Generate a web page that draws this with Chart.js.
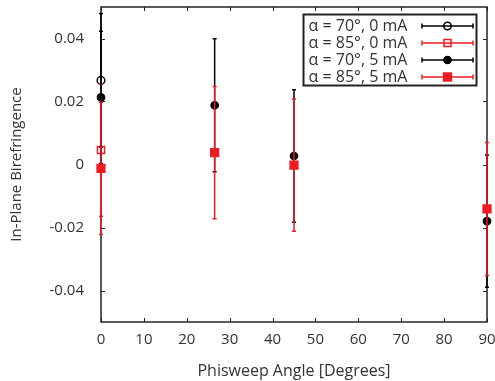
<!DOCTYPE html>
<html>
<head>
<meta charset="utf-8">
<script src="https://cdn.jsdelivr.net/npm/chart.js@4/dist/chart.umd.min.js"></script>
<style>
html, body { margin: 0; padding: 0; background: #fff; overflow: hidden; }
</style>
</head>
<body>
<canvas id="birefChart" width="495" height="381"></canvas>
<script>
'use strict'

const seriesLabels = ['α = 70°, 0 mA', 'α = 85°, 0 mA', 'α = 70°, 5 mA', 'α = 85°, 5 mA'];

const angles70_0mA = [0];
const biref70_0mA = [0.0267];
const err70_0mA = [0.0212];

const angles85_0mA = [0];
const biref85_0mA = [0.0046];
const err85_0mA = [0.0210];

const angles70_5mA = [0, 26.5, 45, 90];
const biref70_5mA = [0.0213, 0.0188, 0.0027, -0.0180];
const err70_5mA = [0.0210, 0.0211, 0.0210, 0.0210];

const angles85_5mA = [0, 26.5, 45, 90];
const biref85_5mA = [-0.0012, 0.0038, -0.0002, -0.0141];
const err85_5mA = [0.0210, 0.0210, 0.0210, 0.0211];

const xTicks = [0, 10, 20, 30, 40, 50, 60, 70, 80, 90];
const yTicks = [-0.04, -0.02, 0, 0.02, 0.04];

const red = 'rgb(237,28,36)';
const black = '#000';
const textColor = '#333';

function toPoints(xs, ys) {
    return xs.map((x, i) => ({ x: x, y: ys[i] }));
}

const datasets = [
    { label: seriesLabels[0], data: toPoints(angles70_0mA, biref70_0mA), errors: err70_0mA,
      color: black, pointStyle: 'circle', filled: false, order: 3 },
    { label: seriesLabels[1], data: toPoints(angles85_0mA, biref85_0mA), errors: err85_0mA,
      color: red, pointStyle: 'rect', filled: false, order: 2 },
    { label: seriesLabels[2], data: toPoints(angles70_5mA, biref70_5mA), errors: err70_5mA,
      color: black, pointStyle: 'circle', filled: true, order: 1 },
    { label: seriesLabels[3], data: toPoints(angles85_5mA, biref85_5mA), errors: err85_5mA,
      color: red, pointStyle: 'rect', filled: true, order: 0 },
].map(ds => Object.assign(ds, {
    showLine: false,
    clip: false,
    borderColor: ds.color,
    backgroundColor: ds.filled ? ds.color : 'rgba(0,0,0,0)',
    pointBorderWidth: 1.5,
    pointRadius: ds.pointStyle === 'rect' ? (ds.filled ? 5.5 : 5) : (ds.filled ? 3.6 : 3.8),
    pointHoverRadius: 5
}));

// error bars with small caps, drawn just before each dataset's markers
const errorBars = {
    id: 'errorBars',
    beforeDatasetDraw(chart, args) {
        const ds = chart.data.datasets[args.index];
        const xs = chart.scales.x, ys = chart.scales.y;
        const ctx = chart.ctx;
        ctx.save();
        ctx.strokeStyle = ds.color;
        ctx.lineWidth = 1.5;
        ds.data.forEach((p, i) => {
            const px = xs.getPixelForValue(p.x);
            const top = ys.getPixelForValue(p.y + ds.errors[i]);
            const bot = ys.getPixelForValue(p.y - ds.errors[i]);
            ctx.beginPath();
            ctx.moveTo(px, top); ctx.lineTo(px, bot);
            ctx.moveTo(px - 2, top); ctx.lineTo(px + 2, top);
            ctx.moveTo(px - 2, bot); ctx.lineTo(px + 2, bot);
            ctx.stroke();
        });
        ctx.restore();
    }
};

// plot frame with inward ticks on all four sides
const frame = {
    id: 'frame',
    beforeDatasetsDraw(chart) {
        const { ctx, chartArea: a } = chart;
        const xs = chart.scales.x, ys = chart.scales.y;
        ctx.save();
        ctx.strokeStyle = '#222';
        ctx.lineWidth = 1.5;
        ctx.strokeRect(a.left, a.top, a.right - a.left, a.bottom - a.top);
        ctx.lineWidth = 1;
        ctx.beginPath();
        xTicks.forEach(v => {
            const px = Math.round(xs.getPixelForValue(v)) + 0.5;
            ctx.moveTo(px, a.bottom); ctx.lineTo(px, a.bottom - 4);
            ctx.moveTo(px, a.top); ctx.lineTo(px, a.top + 4);
        });
        yTicks.forEach(v => {
            const py = Math.round(ys.getPixelForValue(v)) + 0.5;
            ctx.moveTo(a.left, py); ctx.lineTo(a.left + 4, py);
            ctx.moveTo(a.right, py); ctx.lineTo(a.right - 4, py);
        });
        ctx.stroke();
        ctx.restore();
    }
};

function drawMarker(ctx, ds, x, y) {
    ctx.save();
    ctx.lineWidth = 1.5;
    ctx.strokeStyle = ds.color;
    ctx.fillStyle = ds.color;
    ctx.beginPath();
    if (ds.pointStyle === 'circle') {
        ctx.arc(x, y, ds.pointRadius, 0, Math.PI * 2);
    } else {
        const s = ds.pointRadius * Math.SQRT1_2;
        ctx.rect(x - s, y - s, 2 * s, 2 * s);
    }
    if (ds.filled) ctx.fill();
    ctx.stroke();
    ctx.restore();
}

// legend in the style of the original: text left, error-bar sample right
const boxLegend = {
    id: 'boxLegend',
    afterDatasetsDraw(chart) {
        const { ctx, chartArea: a } = chart;
        const w = 173, h = 71;
        const left = a.right - 10.5 - w, top = a.top + 7.5;
        ctx.save();
        ctx.fillStyle = '#fff';
        ctx.fillRect(left, top, w, h);
        ctx.lineWidth = 2;
        ctx.strokeStyle = '#222';
        ctx.strokeRect(left, top, w, h);
        ctx.font = '16px "Open Sans"';
        ctx.textBaseline = 'middle';
        chart.data.datasets.forEach((ds, i) => {
            const cy = top + 11.5 + i * 17;
            ctx.fillStyle = textColor;
            ctx.fillText(ds.label, left + 5, cy);
            const x0 = left + 118.5, x1 = left + 169.5, xm = (x0 + x1) / 2;
            ctx.strokeStyle = ds.color;
            ctx.lineWidth = 1.5;
            ctx.beginPath();
            ctx.moveTo(x0, cy); ctx.lineTo(x1, cy);
            ctx.moveTo(x0, cy - 2.5); ctx.lineTo(x0, cy + 2.5);
            ctx.moveTo(x1, cy - 2.5); ctx.lineTo(x1, cy + 2.5);
            ctx.stroke();
            drawMarker(ctx, ds, xm, cy);
        });
        ctx.restore();
    }
};

const configBiref = {
    type: 'scatter',
    data: { datasets: datasets },
    options: {
        responsive: false,
        animation: false,
        layout: { padding: { top: 4, right: 8, left: 0, bottom: 0 } },
        plugins: {
            legend: { display: false },
            tooltip: { enabled: false }
        },
        scales: {
            x: {
                type: 'linear',
                min: 0,
                max: 90,
                grid: { display: false, drawTicks: false },
                border: { display: false },
                afterBuildTicks: s => { s.ticks = xTicks.map(v => ({ value: v })); },
                afterFit: s => { s.height = 59; s.paddingLeft = 0; s.paddingRight = 0; },
                ticks: {
                    color: textColor,
                    font: { family: 'Open Sans', size: 15 },
                    padding: 9,
                    maxRotation: 0
                },
                title: {
                    display: true,
                    text: 'Phisweep Angle [Degrees]',
                    color: textColor,
                    font: { family: 'Open Sans', size: 16 },
                    padding: { top: -1, bottom: 0 }
                }
            },
            y: {
                type: 'linear',
                min: -0.05,
                max: 0.05,
                grid: { display: false, drawTicks: false },
                border: { display: false },
                afterBuildTicks: s => { s.ticks = yTicks.map(v => ({ value: v })); },
                afterFit: s => { s.width = 101; s.paddingTop = 0; s.paddingBottom = 0; },
                ticks: {
                    color: textColor,
                    font: { family: 'Open Sans', size: 15 },
                    padding: 17,
                    callback: v => v === 0 ? '0' : v.toFixed(2)
                },
                title: {
                    display: true,
                    text: 'In-Plane Birefringence',
                    color: textColor,
                    font: { family: 'Open Sans', size: 15 },
                    padding: { top: 8, bottom: 0 }
                }
            }
        }
    },
    plugins: [frame, errorBars, boxLegend]
};

const chartBiref = new Chart(
    document.getElementById('birefChart'),
    configBiref
);
</script>
</body>
</html>
